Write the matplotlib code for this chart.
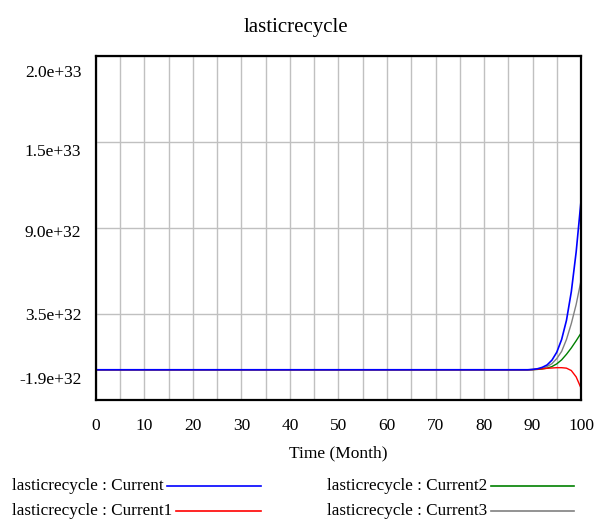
import matplotlib
matplotlib.use("Agg")
import matplotlib.pyplot as plt
import numpy as np

plt.rcParams['font.family'] = ['Liberation Serif', 'DejaVu Serif']

# data (units of 1e32), months 0..100 ; flat at 0 before month 90
tail_months = list(range(90, 101))
current  = [0.02, 0.06, 0.15, 0.3, 0.6, 1.1, 1.9, 3.1, 4.9, 7.4, 10.6]
current1 = [0.01, 0.03, 0.06, 0.09, 0.11, 0.13, 0.13, 0.1, -0.05, -0.45, -1.15]
current2 = [0.01, 0.02, 0.05, 0.1, 0.2, 0.37, 0.62, 0.97, 1.37, 1.82, 2.3]
current3 = [0.01, 0.03, 0.08, 0.2, 0.38, 0.7, 1.15, 1.9, 2.9, 4.1, 5.6]

ytick_labels = ["-1.9e+32", "3.5e+32", "9.0e+32", "1.5e+33", "2.0e+33"]
ylabel_pos = [0.058, 0.244, 0.485, 0.721, 0.951]   # where vensim puts them

months = np.arange(0, 101)
def full(tail):
    v = np.zeros(len(months))
    v[90:] = tail
    return v * 1e32

fig = plt.figure(figsize=(5.95, 5.22), dpi=100)
ax = fig.add_axes([0.1613, 0.2337, 0.8152, 0.659])

ymin, ymax = -1.9e32, 1.97e33
ax.set_xlim(0, 100)
ax.set_ylim(ymin, ymax)

ax.plot(months, full(current3), color='#808080', lw=1)
ax.plot(months, full(current2), color='#008000', lw=1)
ax.plot(months, full(current1), color='#ff0000', lw=1)
ax.plot(months, full(current), color='#0000ff', lw=1.2)

ax.set_xticks(np.arange(0, 101, 5), minor=False)
ax.set_xticklabels([str(m) if m % 10 == 0 else "" for m in range(0, 101, 5)])
ax.set_yticks(np.linspace(ymin, ymax, 5))
ax.set_yticklabels([])
ax.grid(True, color='#c0c0c0', lw=1)
ax.tick_params(length=0, labelsize=12.5, pad=13)
for s in ax.spines.values():
    s.set_linewidth(1.6)
    s.set_color('black')

for lab, p in zip(ytick_labels, ylabel_pos):
    ax.text(-0.03, p, lab, transform=ax.transAxes, ha='right', va='center', fontsize=12.5)

ax.set_xlabel("Time (Month)", fontsize=12.5, labelpad=8)
fig.text(0.497, 0.947, "lasticrecycle", ha='center', va='center', fontsize=15)

# legend drawn like vensim: text then line sample up to a fixed end
leg = [("lasticrecycle : Current", '#0000ff', 0.020, 0.439, 0.069),
       ("lasticrecycle : Current1", '#ff0000', 0.020, 0.439, 0.021),
       ("lasticrecycle : Current2", '#008000', 0.550, 0.965, 0.069),
       ("lasticrecycle : Current3", '#808080', 0.550, 0.965, 0.021)]
fig.canvas.draw()
r = fig.canvas.get_renderer()
for name, c, tx, x1, y in leg:
    t = fig.text(tx, y, name, ha='left', va='center', fontsize=12.3)
    bb = t.get_window_extent(r).transformed(fig.transFigure.inverted())
    fig.add_artist(plt.Line2D([bb.x1 + 0.006, x1], [y, y], color=c, lw=1.2,
                              transform=fig.transFigure))

fig.savefig("out.png", dpi=100)
